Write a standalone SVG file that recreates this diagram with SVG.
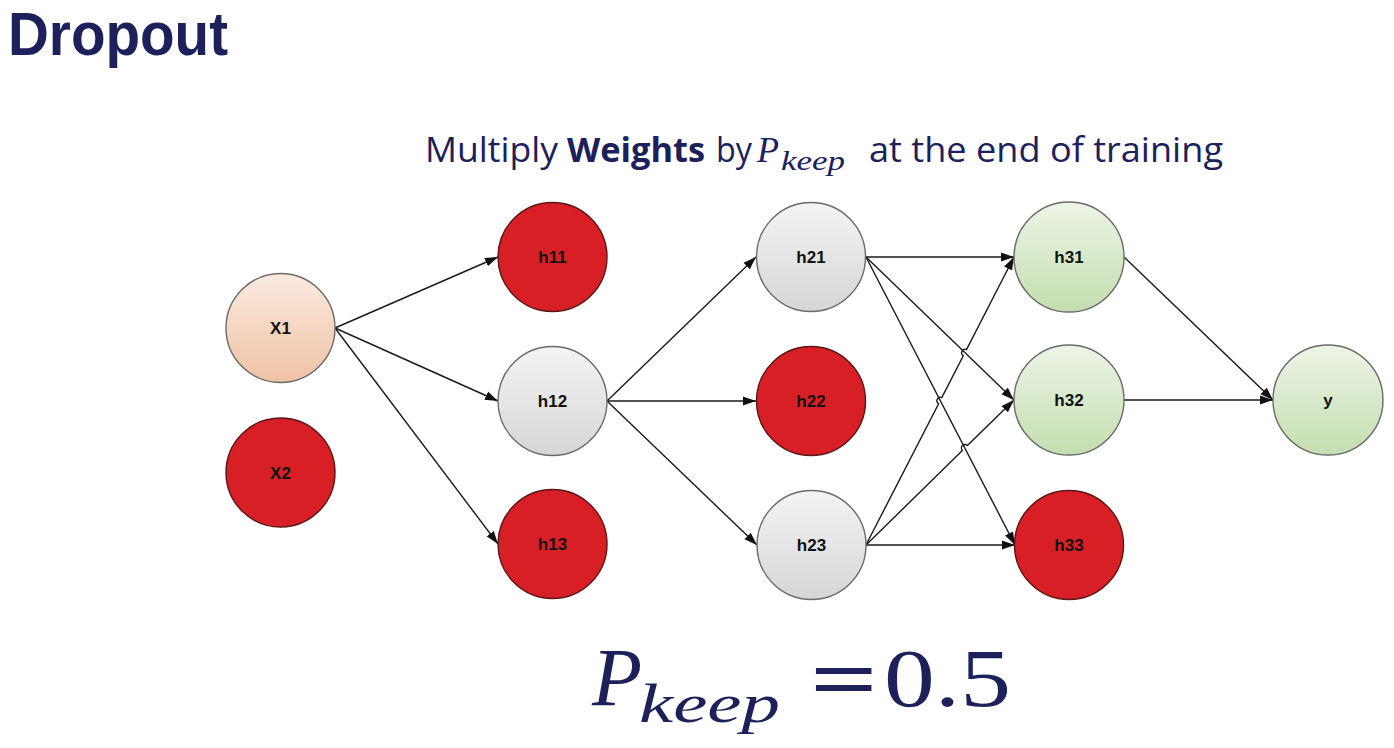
<svg xmlns="http://www.w3.org/2000/svg" width="1394" height="748" viewBox="0 0 1394 748">
<defs>
<linearGradient id="gGray" x1="0" y1="0" x2="0" y2="1"><stop offset="0" stop-color="#f4f4f4"/><stop offset="1" stop-color="#d6d6d6"/></linearGradient>
<linearGradient id="gPeach" x1="0" y1="0" x2="0" y2="1"><stop offset="0" stop-color="#fbeadf"/><stop offset="1" stop-color="#efc2a4"/></linearGradient>
<linearGradient id="gGreen" x1="0" y1="0" x2="0" y2="1"><stop offset="0" stop-color="#edf5e6"/><stop offset="1" stop-color="#c3deaf"/></linearGradient>
<marker id="arr" markerUnits="userSpaceOnUse" markerWidth="14" markerHeight="10" refX="13" refY="5" orient="auto"><path d="M0,0.5 L13,5 L0,9.5 z" fill="#111"/></marker>
<style>
.n{stroke:#6b6b6b;stroke-width:1.4}
.red{fill:#d91f26;stroke:#5a1515}
.gray{fill:url(#gGray)}
.peach{fill:url(#gPeach)}
.green{fill:url(#gGreen)}
.lb{font-family:"Liberation Sans",Arial,sans-serif;font-weight:bold;font-size:17px;fill:#111;text-anchor:middle}
.e{fill:none;stroke:#1a1a1a;stroke-width:1.4;marker-end:url(#arr)}
.navy{fill:#1c205b}
</style>
</defs>
<rect width="1394" height="748" fill="#ffffff"/>
<text x="8" y="55" class="navy" font-family="Liberation Sans,Arial,sans-serif" font-weight="bold" font-size="62" textLength="220" lengthAdjust="spacingAndGlyphs">Dropout</text>
<g id="subtitle" class="navy" font-family="Open Sans,Liberation Sans,sans-serif" font-size="34">
<text x="425" y="162" textLength="133" lengthAdjust="spacingAndGlyphs">Multiply</text>
<text x="567" y="162" font-weight="bold" textLength="138" lengthAdjust="spacingAndGlyphs">Weights</text>
<text x="716" y="162" textLength="36" lengthAdjust="spacingAndGlyphs">by</text>
<text x="757" y="162" font-family="Liberation Serif,serif" font-style="italic" font-size="36">P</text>
<text x="781" y="170" font-family="Liberation Serif,serif" font-style="italic" font-size="27" textLength="64" lengthAdjust="spacingAndGlyphs">keep</text>
<text x="869" y="162" textLength="354" lengthAdjust="spacingAndGlyphs">at the end of training</text>
</g>
<g id="connectors">
<path class="e" d="M335,328 L498,257"/>
<path class="e" d="M335,328 L498,401"/>
<path class="e" d="M335,328 L498,544"/>
<path class="e" d="M607,401 L756,257"/>
<path class="e" d="M607,401 L756,401"/>
<path class="e" d="M607,401 L757,545"/>
<path class="e" d="M866,257 L1014,257"/>
<path class="e" d="M866,257 L1014,400"/>
<path class="e" d="M866,257 L1015,545"/>
<path class="e" d="M866,545 L938.6,403.7 A3.5,3.5 0 0 1 941.8,397.5 L963.3,355.7 A3.5,3.5 0 0 1 966.5,349.5 L1014,257"/>
<path class="e" d="M866,545 L962.4,450.5 A3.5,3.5 0 0 1 967.4,445.6 L1014,400"/>
<path class="e" d="M866,545 L1015,545"/>
<path class="e" d="M1124,257 L1273,400"/>
<path class="e" d="M1124,400 L1273,400"/>
</g>
<g id="X1"><circle class="n peach" cx="280.5" cy="328" r="54.5"/><text class="lb" x="280.5" y="334">X1</text></g>
<g id="X2"><circle class="n red" cx="280.5" cy="472.5" r="54.5"/><text class="lb" x="280.5" y="478.5">X2</text></g>
<g id="h11"><circle class="n red" cx="552.5" cy="257" r="54.5"/><text class="lb" x="552.5" y="263">h11</text></g>
<g id="h12"><circle class="n gray" cx="552.5" cy="401" r="54.5"/><text class="lb" x="552.5" y="407">h12</text></g>
<g id="h13"><circle class="n red" cx="552.5" cy="544" r="54.5"/><text class="lb" x="552.5" y="550">h13</text></g>
<g id="h21"><circle class="n gray" cx="811" cy="257" r="54.5"/><text class="lb" x="811" y="263">h21</text></g>
<g id="h22"><circle class="n red" cx="811" cy="401" r="54.5"/><text class="lb" x="811" y="407">h22</text></g>
<g id="h23"><circle class="n gray" cx="811.5" cy="545" r="54.5"/><text class="lb" x="811.5" y="551">h23</text></g>
<g id="h31"><circle class="n green" cx="1069" cy="257" r="55"/><text class="lb" x="1069" y="263">h31</text></g>
<g id="h32"><circle class="n green" cx="1069" cy="400" r="55"/><text class="lb" x="1069" y="406">h32</text></g>
<g id="h33"><circle class="n red" cx="1069" cy="545" r="54.5"/><text class="lb" x="1069" y="551">h33</text></g>
<g id="y"><circle class="n green" cx="1328" cy="400" r="55"/><text class="lb" x="1328" y="406">y</text></g>
<g id="formula" class="navy" font-family="Liberation Serif,serif">
<text x="592" y="705" font-style="italic" font-size="82">P</text>
<text x="639" y="722" font-style="italic" font-size="54" textLength="141" lengthAdjust="spacingAndGlyphs">keep</text>
<text x="810" y="708" font-size="86" font-weight="bold" textLength="68" lengthAdjust="spacingAndGlyphs">=</text>
<text x="884" y="706" font-size="82" textLength="127" lengthAdjust="spacingAndGlyphs">0.5</text>
</g>
</svg>
